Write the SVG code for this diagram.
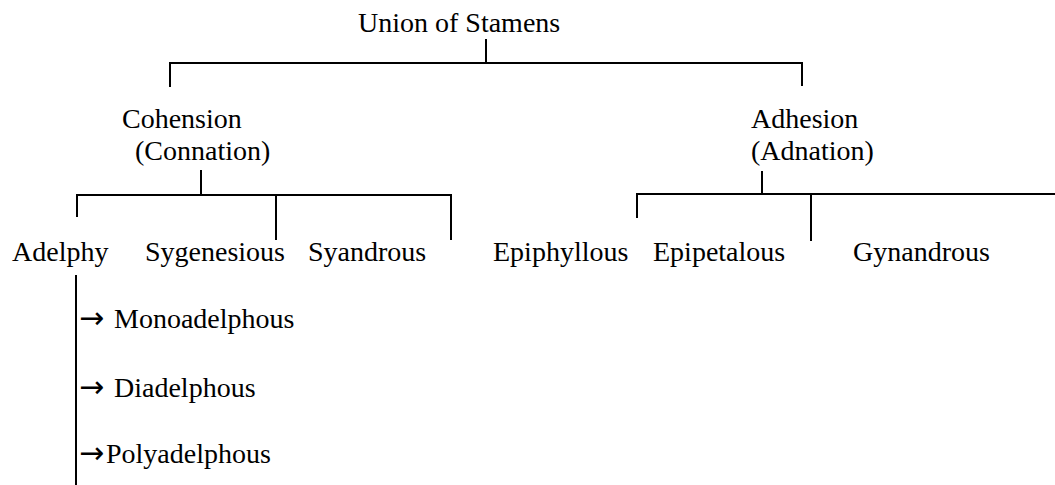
<svg xmlns="http://www.w3.org/2000/svg" width="1055" height="485" viewBox="0 0 1055 485">
<style>
text{font-family:"Liberation Serif","Times New Roman",serif;font-size:28px;fill:#000}
.ar{font-family:"DejaVu Sans",sans-serif;font-size:30px}
.c line{stroke:#000;stroke-width:2;fill:none}
</style>
<rect width="1055" height="485" fill="#fff"/>
<g class="c" id="connectors">
<line x1="486" y1="39" x2="486" y2="63"/>
<line x1="170" y1="63" x2="802" y2="63"/>
<line x1="170" y1="62" x2="170" y2="87"/>
<line x1="802" y1="62" x2="802" y2="86"/>
<line x1="201" y1="170" x2="201" y2="195"/>
<line x1="77" y1="195" x2="451" y2="195"/>
<line x1="77" y1="194" x2="77" y2="217"/>
<line x1="276" y1="194" x2="276" y2="240"/>
<line x1="451" y1="194" x2="451" y2="240"/>
<line x1="762" y1="171" x2="762" y2="194"/>
<line x1="637" y1="194" x2="1055" y2="194"/>
<line x1="637" y1="193" x2="637" y2="218"/>
<line x1="811" y1="193" x2="811" y2="241"/>
<line x1="76" y1="275" x2="76" y2="485"/>
</g>
<g id="union"><text x="358" y="32">Union of Stamens</text></g>
<g id="cohesion"><text x="122" y="128">Cohension</text><text x="135" y="160">(Connation)</text></g>
<g id="adhesion"><text x="751" y="128">Adhesion</text><text x="751" y="160">(Adnation)</text></g>
<g id="adelphy"><text x="12" y="261">Adelphy</text></g>
<g id="sygenesious"><text x="145" y="261">Sygenesious</text></g>
<g id="syandrous"><text x="308" y="261">Syandrous</text></g>
<g id="epiphyllous"><text x="493" y="261">Epiphyllous</text></g>
<g id="epipetalous"><text x="653" y="261">Epipetalous</text></g>
<g id="gynandrous"><text x="853" y="261">Gynandrous</text></g>
<g id="monoadelphous"><text x="79" y="328"><tspan class="ar">→</tspan><tspan x="114">Monoadelphous</tspan></text></g>
<g id="diadelphous"><text x="79" y="397"><tspan class="ar">→</tspan><tspan x="114">Diadelphous</tspan></text></g>
<g id="polyadelphous"><text x="79" y="463"><tspan class="ar">→</tspan><tspan x="106">Polyadelphous</tspan></text></g>
</svg>
